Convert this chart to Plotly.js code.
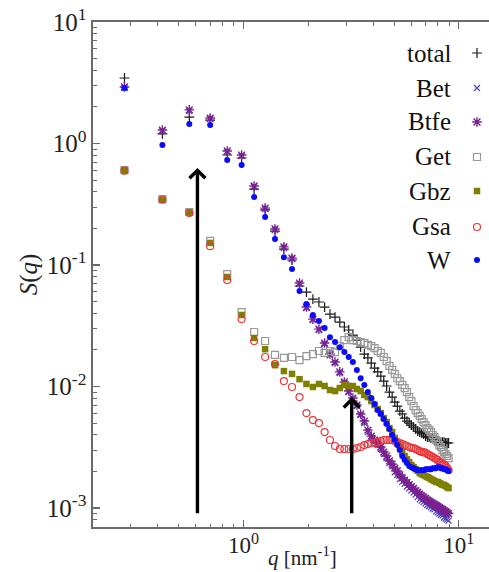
<!DOCTYPE html>
<html>
<head>
<meta charset="utf-8">
<script src="https://cdn.plot.ly/plotly-3.0.1.min.js"></script>
<style>html,body{margin:0;padding:0;background:#fff;}#chart{width:489px;height:572px;}</style>
</head>
<body>
<div id="chart"></div>
<script>
// ---- data ----
const q = [0.28,0.42,0.56,0.70,0.84,0.98,1.12,1.26,1.40,1.54,1.68,1.82,1.96,2.10,2.24,2.38,2.52,2.66,2.80,2.94,3.08,3.22,3.36,3.50,3.64,3.78,3.92,4.06,4.20,4.34,4.48,4.62,4.76,4.90,5.04,5.18,5.32,5.46,5.60,5.74,5.88,6.02,6.16,6.30,6.44,6.58,6.72,6.86,7.00,7.14,7.28,7.42,7.56,7.70,7.84,7.98,8.12,8.26,8.40,8.54,8.68,8.82,8.96];

const total = [3.46,1.20,1.65,1.56,0.804,0.760,0.422,0.284,0.190,0.135,0.110,0.0672,
  0.0599,0.0525,0.0496,0.0451,0.0395,0.0373,0.0339,0.0309,0.0292,0.0265,0.0241,
  0.0211,0.0185,0.0172,0.0156,0.0142,0.0132,0.0122,0.0111,0.0101,0.00901,
  0.00819,0.00745,0.00691,0.00628,0.00594,0.00550,0.00520,0.00500,0.00482,0.00464,
  0.00447,0.00430,0.00422,0.00414,0.00406,0.00391,0.00384,0.00384,0.00377,0.00370,
  0.00363,0.00363,0.00356,0.00356,0.00349,0.00349,0.00349,0.00343,0.00343,0.00343];

const Bet = [2.86,1.27,1.85,1.59,0.852,0.789,0.438,0.288,0.194,0.138,0.112,0.0698,
  0.0442,0.0352,0.0291,0.0224,0.0181,0.0156,0.0129,0.0107,0.00900,0.00789,0.00691,
  0.00583,0.00501,0.00422,0.00377,0.00350,0.00330,0.00306,0.00278,0.00258,0.00235,
  0.00221,0.00197,0.00187,0.00173,0.00164,0.00158,0.00150,0.00145,0.00139,0.00134,
  0.00129,0.00123,0.00118,0.00115,0.00112,0.00109,0.00106,0.00104,0.00102,0.000992,
  0.000974,0.000938,0.000920,0.000902,0.000885,0.000868,0.000836,0.000820,0.000804,0.000789];

const Btfe = [2.92,1.29,1.89,1.62,0.868,0.804,0.447,0.294,0.198,0.141,0.114,0.0711,
  0.0451,0.0359,0.0297,0.0228,0.0185,0.0159,0.0132,0.0109,0.00918,0.00804,0.00704,
  0.00594,0.00520,0.00438,0.00391,0.00363,0.00343,0.00318,0.00289,0.00268,0.00244,
  0.00230,0.00213,0.00202,0.00187,0.00177,0.00170,0.00162,0.00156,0.00150,0.00145,
  0.00139,0.00135,0.00130,0.00126,0.00123,0.00120,0.00116,0.00114,0.00112,0.00109,
  0.00107,0.00105,0.00103,0.00101,0.000991,0.000972,0.000954,0.000936,0.000918,0.000901];

const Get = [0.605,0.349,0.273,0.158,0.0843,0.0410,0.0281,0.0237,0.0182,0.0172,0.0175,0.0165,
  0.0178,0.0185,0.0196,0.0189,0.0196,0.0192,0.0215,0.0241,0.0255,0.0241,0.0237,
  0.0232,0.0228,0.0220,0.0215,0.0207,0.0196,0.0189,0.0175,0.0162,0.0148,
  0.0137,0.0127,0.0117,0.0111,0.0103,0.00972,0.00901,0.00819,0.00760,0.00691,
  0.00640,0.00605,0.00572,0.00540,0.00510,0.00482,0.00455,0.00438,0.00422,0.00399,
  0.00384,0.00363,0.00349,0.00330,0.00318,0.00300,0.00289,0.00278,0.00268,0.00258];

const Gbz = [0.600,0.343,0.270,0.152,0.0797,0.0388,0.0251,0.0203,0.0150,0.0134,0.0127,0.0115,
  0.0105,0.00991,0.0105,0.0101,0.00936,0.00918,0.00972,0.0103,0.0101,0.0101,0.00954,
  0.00918,0.00851,0.00819,0.00760,0.00704,0.00653,0.00605,0.00550,0.00510,0.00455,
  0.00422,0.00377,0.00343,0.00318,0.00289,0.00268,0.00253,0.00239,0.00226,0.00217,
  0.00209,0.00202,0.00194,0.00190,0.00187,0.00183,0.00180,0.00177,0.00173,0.00170,
  0.00167,0.00164,0.00164,0.00161,0.00158,0.00155,0.00155,0.00152,0.00149,0.00146];

const Gsa = [0.598,0.346,0.268,0.143,0.0752,0.0359,0.0237,0.0175,0.0153,0.0111,0.00991,0.00819,
  0.00605,0.00530,0.00500,0.00422,0.00363,0.00324,0.00306,0.00306,0.00306,0.00306,0.00312,
  0.00318,0.00330,0.00336,0.00343,0.00343,0.00349,0.00356,0.00363,0.00363,0.00363,
  0.00363,0.00356,0.00349,0.00343,0.00336,0.00330,0.00324,0.00318,0.00312,0.00312,
  0.00306,0.00300,0.00294,0.00289,0.00289,0.00284,0.00278,0.00273,0.00268,0.00263,
  0.00258,0.00253,0.00248,0.00239,0.00235,0.00230,0.00226,0.00222,0.00213,0.00205];

const W = [2.86,0.972,1.45,1.42,0.731,0.665,0.363,0.248,0.164,0.116,0.0927,0.0611,
  0.0477,0.0388,0.0346,0.0303,0.0255,0.0232,0.0211,0.0192,0.0175,0.0159,0.0137,
  0.0117,0.0103,0.00901,0.00804,0.00718,0.00640,0.00594,0.00540,0.00491,0.00447,
  0.00399,0.00363,0.00330,0.00300,0.00268,0.00248,0.00235,0.00222,0.00217,0.00213,
  0.00209,0.00205,0.00205,0.00205,0.00205,0.00209,0.00209,0.00209,0.00209,0.00213,
  0.00213,0.00213,0.00217,0.00217,0.00213,0.00213,0.00209,0.00209,0.00205,0.00202];

const seriesNames = ["total","Bet","Btfe","Get","Gbz","Gsa","W"];
const seriesData = [total, Bet, Btfe, Get, Gbz, Gsa, W];

const xTickVals = [1, 10];
const xTickText = ["10<sup>0</sup>", "10<sup>1</sup>"];
const yTickVals = [0.001, 0.01, 0.1, 1, 10];
const yTickText = ["10<sup>-3</sup>", "10<sup>-2</sup>", "10<sup>-1</sup>", "10<sup>0</sup>", "10<sup>1</sup>"];
const xTitle = "<i>q</i> [nm<sup>-1</sup>]";
const yTitle = "<i>S</i>(<i>q</i>)";

// arrows (q position, base S, tip S)
const arrowQ = [0.611, 3.18];
const arrowBase = [0.00088, 0.00088];
const arrowTip = [0.63, 0.0082];

// ---- styles ----
const FONT = "Liberation Serif, DejaVu Serif, serif";
const styles = [
  {symbol: "cross-thin-open", size: 7, color: "#1a1a1a", line: {color: "#1a1a1a", width: 1.2}},
  {symbol: "x-thin-open", size: 6, color: "#4a44b8", line: {color: "#4a44b8", width: 1.2}},
  {symbol: "asterisk-open", size: 8, color: "#7a2190", line: {color: "#7a2190", width: 1.4}},
  {symbol: "square-open", size: 7, color: "#999999", line: {color: "#999999", width: 1.2}},
  {symbol: "square", size: 6.5, color: "#7f7f00", line: {width: 0}},
  {symbol: "circle-open", size: 7, color: "#e8363a", line: {color: "#e8363a", width: 1.2}},
  {symbol: "circle", size: 6, color: "#0a0aff", line: {width: 0}}
];

const traces = seriesData.map((d, i) => ({
  type: "scatter", mode: "markers", x: q, y: d, name: seriesNames[i],
  marker: styles[i], hoverinfo: "skip", cliponaxis: false
}));

// custom legend (text left, symbol right)
const legendY = [0.9386, 0.8693, 0.8020, 0.7327, 0.6653, 0.5941, 0.5287];
seriesNames.forEach((nm, i) => {
  traces.push({
    type: "scatter", mode: "markers", x: [0.9697], y: [legendY[i]],
    xaxis: "x2", yaxis: "y2", marker: styles[i], hoverinfo: "skip", showlegend: false
  });
});

const annotations = seriesNames.map((nm, i) => ({
  xref: "paper", yref: "paper", x: 0.909, y: legendY[i], xanchor: "right", yanchor: "middle",
  text: nm, showarrow: false, font: {family: FONT, size: 25, color: "#111"}
}));

// x-axis title placed as annotation so it sits at the bottom edge like the reference
annotations.push({
  xref: "paper", yref: "paper", x: 0.53, y: -0.058, xanchor: "center", yanchor: "middle",
  text: xTitle, showarrow: false, font: {family: FONT, size: 21, color: "#222"}
});

arrowQ.forEach((xq, i) => {
  annotations.push({
    xref: "x", yref: "y", axref: "x", ayref: "y",
    x: Math.log10(xq), y: Math.log10(arrowTip[i]),
    ax: Math.log10(xq), ay: Math.log10(arrowBase[i]),
    text: "", showarrow: true, arrowhead: 4, arrowsize: 0.9, arrowwidth: 3.4,
    arrowcolor: "#000", standoff: 0, startstandoff: 0
  });
});

const axisCommon = {
  type: "log", ticks: "inside", ticklen: 7, tickwidth: 1.2, tickcolor: "#6a6a6a",
  showline: true, linecolor: "#6a6a6a", linewidth: 1.6, showgrid: false, zeroline: false,
  tickmode: "array", automargin: false,
  minor: {dtick: "D1", ticks: "inside", ticklen: 3.5, tickwidth: 1, tickcolor: "#6a6a6a", showgrid: false},
  tickfont: {family: FONT, size: 25, color: "#222"}
};

const layout = {
  width: 489, height: 572,
  margin: {l: 93, r: 0, t: 22, b: 45, pad: 0},
  paper_bgcolor: "#fff", plot_bgcolor: "#fff",
  showlegend: false,
  font: {family: FONT, size: 22, color: "#222"},
  xaxis: Object.assign({}, axisCommon, {
    range: [Math.log10(0.2), 1.14], tickvals: xTickVals, ticktext: xTickText, mirror: "ticks",
    tickfont: {family: FONT, size: 23, color: "#222"}, ticklabelstandoff: -3
  }),
  yaxis: Object.assign({}, axisCommon, {
    range: [-3.156, 1], tickvals: yTickVals, ticktext: yTickText, mirror: false,
    title: {text: yTitle, font: {family: FONT, size: 25, color: "#222"}, standoff: 2}
  }),
  xaxis2: {overlaying: "x", anchor: "y2", range: [0, 1], visible: false, fixedrange: true},
  yaxis2: {overlaying: "y", anchor: "x2", range: [0, 1], visible: false, fixedrange: true},
  annotations: annotations
};

Plotly.newPlot("chart", traces, layout, {staticPlot: true, displayModeBar: false});
</script>
</body>
</html>
